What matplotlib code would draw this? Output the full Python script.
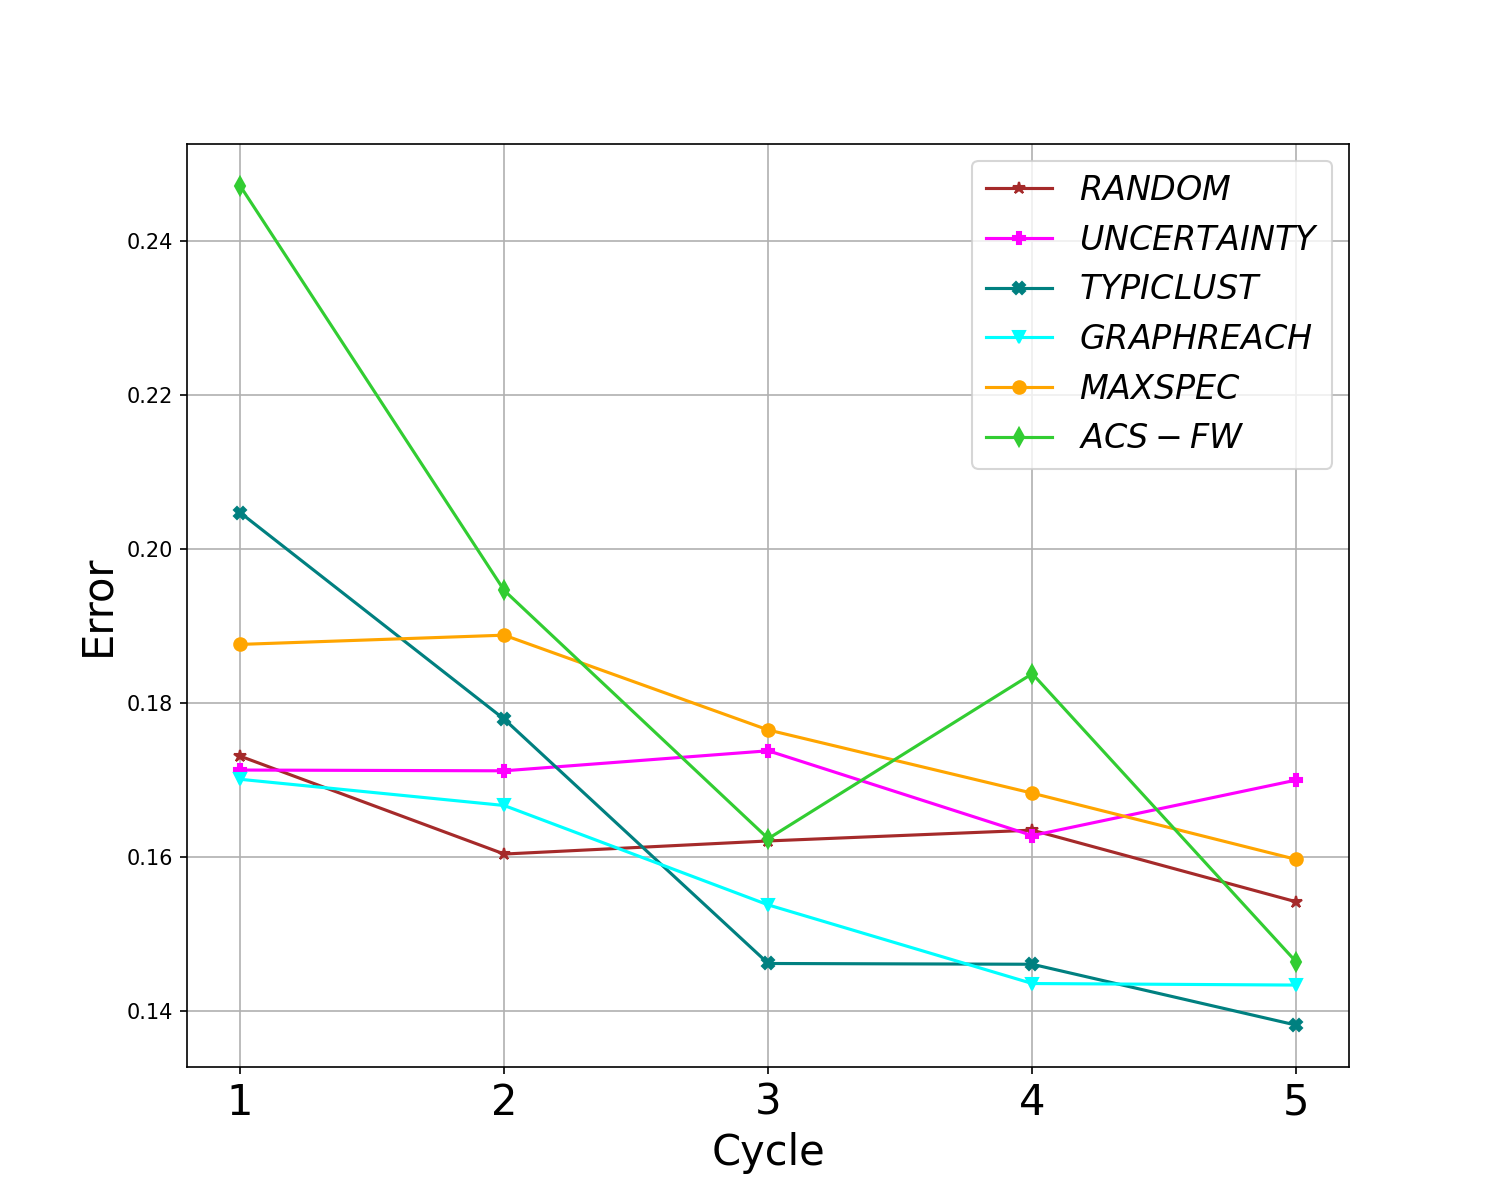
import matplotlib
matplotlib.use("Agg")
import matplotlib.pyplot as plt

cycles = [1, 2, 3, 4, 5]
random_err = [0.1731, 0.1604, 0.1621, 0.1635, 0.1542]
uncertainty_err = [0.1713, 0.1712, 0.1738, 0.1628, 0.1700]
typiclust_err = [0.2047, 0.1779, 0.1462, 0.1461, 0.1382]
graphreach_err = [0.1701, 0.1667, 0.1538, 0.1436, 0.1434]
maxspec_err = [0.1876, 0.1888, 0.1765, 0.1683, 0.1597]
acsfw_err = [0.2471, 0.1946, 0.1624, 0.1838, 0.1464]

series = [
    (r"$RANDOM$", random_err, "brown", "*"),
    (r"$UNCERTAINTY$", uncertainty_err, "magenta", "P"),
    (r"$TYPICLUST$", typiclust_err, "teal", "X"),
    (r"$GRAPHREACH$", graphreach_err, "cyan", "v"),
    (r"$MAXSPEC$", maxspec_err, "orange", "o"),
    (r"$ACS-FW$", acsfw_err, "limegreen", "d"),
]

fig, ax = plt.subplots(figsize=(1499 / 150, 1199 / 150), dpi=150)
for label, vals, color, marker in series:
    ax.plot(cycles, vals, color=color, marker=marker, label=label, linewidth=1.5, markersize=6)

ax.grid(True)
ax.set_xticks(cycles)
ax.tick_params(axis="x", labelsize=20)
ax.tick_params(axis="y", labelsize=10)
ax.set_xlabel("Cycle", fontsize=20)
ax.set_ylabel("Error", fontsize=20)
ax.legend(fontsize=16, loc="upper right")

fig.savefig("out.png", dpi=150)
